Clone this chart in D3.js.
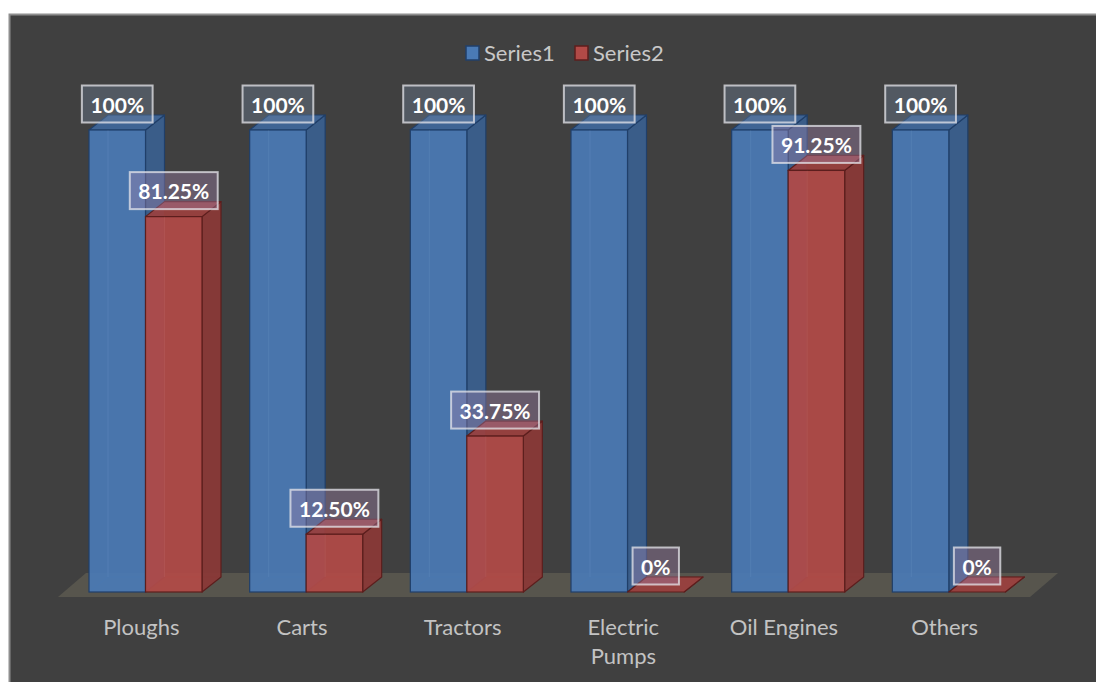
<!DOCTYPE html>
<html>
<head>
<meta charset="utf-8">
<script src="https://cdn.jsdelivr.net/npm/d3@7"></script>
<style>
  html, body { margin: 0; padding: 0; background: #ffffff; }
  svg { display: block; }
</style>
</head>
<body>
<svg id="chart" width="1096" height="682"></svg>
<script>
// Equipment ownership shares (fraction of 1)
const categories = ["Ploughs", "Carts", "Tractors", "Electric Pumps", "Oil Engines", "Others"];
const seriesNames = ["Series1", "Series2"];
const series1 = [1, 1, 1, 1, 1, 1];
const series2 = [0.8125, 0.125, 0.3375, 0, 0.9125, 0];
const series1Labels = ["100%", "100%", "100%", "100%", "100%", "100%"];
const series2Labels = ["81.25%", "12.50%", "33.75%", "0%", "91.25%", "0%"];

const svg = d3.select("#chart");
const W = 1096, H = 682;

// Dark chart panel
svg.append("rect")
  .attr("x", 9.5).attr("y", 14.5)
  .attr("width", W + 20).attr("height", H + 20)
  .attr("fill", "#404040")
  .attr("stroke", "#8e8e8e").attr("stroke-width", 2);

const defs = svg.append("defs");
const shadow = defs.append("filter").attr("id", "lblShadow")
  .attr("x", "-30%").attr("y", "-40%").attr("width", "160%").attr("height", "180%");
shadow.append("feDropShadow").attr("dx", 0).attr("dy", 0)
  .attr("stdDeviation", 4).attr("flood-color", "#000").attr("flood-opacity", 0.45);

// Scales
const x = d3.scaleBand().domain(categories).range([64, 1028]).padding(0);
const xs = d3.scaleBand().domain(seriesNames).range([25, 138]).padding(0);
const y = d3.scaleLinear().domain([0, 1]).range([592, 130]);

// 3D depth offset
const dx = 19, dy = 15;

const styles = {
  Series1: { front: "#4a7ab5", top: "#3f679b", side: "#3a5f8f", stroke: "#203f69", inner: "rgba(40,80,130,0.55)",
             labelFill: "rgba(125,145,175,0.32)" },
  Series2: { front: "#b14a47", top: "#9b403e", side: "#8b3836", stroke: "#5c1e1d", inner: "rgba(120,40,40,0.55)",
             labelFill: "rgba(165,135,175,0.38)" }
};

// Floor plane
const fl = { x0: 58, x1: 1030, yF: 597, ddx: 28, ddy: 24 };
svg.append("path")
  .attr("d", `M${fl.x0},${fl.yF} L${fl.x1},${fl.yF} L${fl.x1 + fl.ddx},${fl.yF - fl.ddy} L${fl.x0 + fl.ddx},${fl.yF - fl.ddy} Z`)
  .attr("fill", "#57554d");

const rows = categories.map((c, i) => ({
  cat: c,
  vals: [
    { s: "Series1", v: series1[i], label: series1Labels[i] },
    { s: "Series2", v: series2[i], label: series2Labels[i] }
  ]
}));

const barsG = svg.append("g");
rows.forEach(r => {
  const g = barsG.append("g");
  r.vals.forEach(d => {
    const st = styles[d.s];
    const x0 = x(r.cat) + xs(d.s), w = xs.bandwidth();
    const yb = y(0), yt = y(d.v);
    const bg = g.append("g");
    // back (hidden) edges seen through the translucent faces
    bg.append("path")
      .attr("d", `M${x0 + dx},${yt - dy} L${x0 + dx},${yb - dy} L${x0 + w + dx},${yb - dy} M${x0},${yb} L${x0 + dx},${yb - dy}`)
      .attr("fill", "none").attr("stroke", st.inner).attr("stroke-width", 1);
    // side face
    bg.append("path")
      .attr("d", `M${x0 + w},${yt} L${x0 + w + dx},${yt - dy} L${x0 + w + dx},${yb - dy} L${x0 + w},${yb} Z`)
      .attr("fill", st.side).attr("fill-opacity", 0.92)
      .attr("stroke", st.stroke).attr("stroke-width", 1.2).attr("stroke-linejoin", "round");
    // top face
    bg.append("path")
      .attr("d", `M${x0},${yt} L${x0 + w},${yt} L${x0 + w + dx},${yt - dy} L${x0 + dx},${yt - dy} Z`)
      .attr("fill", st.top).attr("fill-opacity", 0.92)
      .attr("stroke", st.stroke).attr("stroke-width", 1.2).attr("stroke-linejoin", "round");
    // front face
    if (yb - yt > 0.5) {
      bg.append("rect")
        .attr("x", x0).attr("y", yt).attr("width", w).attr("height", yb - yt)
        .attr("fill", st.front).attr("fill-opacity", 0.93)
        .attr("stroke", st.stroke).attr("stroke-width", 1.2);
      bg.append("path")
        .attr("d", `M${x0 + dx},${yt} L${x0 + dx},${yb - dy}`)
        .attr("stroke", "rgba(255,255,255,0.06)").attr("stroke-width", 1);
    }
  });
});

// Data labels
const lblG = svg.append("g");
rows.forEach(r => {
  r.vals.forEach(d => {
    const st = styles[d.s];
    const cx = x(r.cat) + xs(d.s) + xs.bandwidth() / 2;
    const cy = y(d.v) - 26;
    const g = lblG.append("g");
    const t = g.append("text")
      .attr("x", cx).attr("y", cy)
      .attr("text-anchor", "middle").attr("dominant-baseline", "central")
      .attr("font-family", "Lato, 'Open Sans', sans-serif").attr("font-weight", "bold")
      .attr("font-size", 21).attr("fill", "#ffffff")
      .text(d.label);
    const bw = t.node().getComputedTextLength() + 17, bh = 37;
    g.insert("rect", "text")
      .attr("x", cx - bw / 2).attr("y", cy - bh / 2).attr("width", bw).attr("height", bh)
      .attr("fill", "rgba(0,0,0,0.01)").attr("filter", "url(#lblShadow)");
    g.insert("rect", "text")
      .attr("x", cx - bw / 2).attr("y", cy - bh / 2).attr("width", bw).attr("height", bh)
      .attr("fill", st.labelFill)
      .attr("stroke", "rgba(230,230,235,0.75)").attr("stroke-width", 2);
  });
});

// Category axis labels (wrapped to the slot width)
const axisG = svg.append("g");
categories.forEach(c => {
  const words = c.split(" ");
  const cx = x(c) + x.bandwidth() / 2 - 3;
  const lines = c === "Electric Pumps" ? words : [c];
  const t = axisG.append("text")
    .attr("text-anchor", "middle")
    .attr("font-family", "Lato, 'Open Sans', sans-serif")
    .attr("font-size", 22).attr("fill", "#c3c3c3");
  lines.forEach((ln, i) => {
    t.append("tspan").attr("x", cx).attr("y", 635 + i * 29).text(ln);
  });
});

// Legend
const legend = svg.append("g");
const legItems = [
  { name: seriesNames[0], fill: "#4a7ab5", stroke: "#203f69", x: 466 },
  { name: seriesNames[1], fill: "#b14a47", stroke: "#5c1e1d", x: 575 }
];
legItems.forEach(it => {
  legend.append("rect")
    .attr("x", it.x).attr("y", 46).attr("width", 13).attr("height", 14)
    .attr("fill", it.fill).attr("stroke", it.stroke).attr("stroke-width", 1.5);
  legend.append("text")
    .attr("x", it.x + 18).attr("y", 61)
    .attr("font-family", "Lato, 'Open Sans', sans-serif")
    .attr("font-size", 22).attr("fill", "#c8c8c8")
    .text(it.name);
});
</script>
</body>
</html>
